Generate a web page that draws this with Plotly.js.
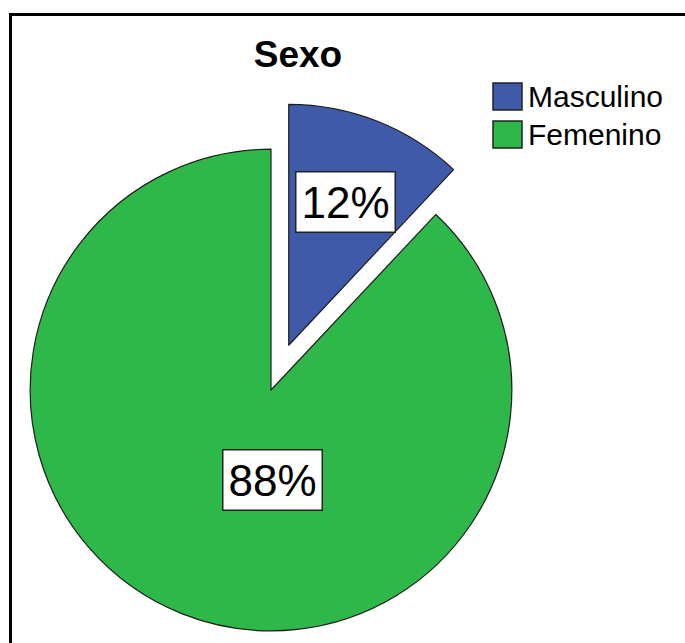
<!DOCTYPE html>
<html><head><meta charset="utf-8">
<script src="https://cdn.plot.ly/plotly-3.0.1.min.js"></script>
<style>
html,body{margin:0;padding:0;overflow:hidden;background:#fff;width:685px;height:643px}
#wrap{position:absolute;left:0;top:0;width:685px;height:643px;overflow:hidden;background:#fff}
#chart{position:absolute;left:-18px;top:0;width:703px;height:680px}
.bar{position:absolute;background:#000;pointer-events:none}
#topbar{left:9px;top:13px;width:676px;height:2.5px}
#leftbar{left:9px;top:13px;width:2.5px;height:630px}
</style>
</head><body><div id="wrap"><div id="chart"></div><div id="topbar" class="bar"></div><div id="leftbar" class="bar"></div></div>
<script>
// ---- data ----
const labels = ['Masculino', 'Femenino'];
const values = [12, 88];
const sliceColors = ['#3f5aa8', '#2eb84a'];
const chartTitle = 'Sexo';

// ---- geometry helpers (page px -> paper) ----
const OFF = 18, W = 703, H = 680;
const X = px => (px + OFF) / W;
const Y = py => 1 - py / H;
const cx = 271, cy = 390, HALF = 289, PULL = 0.2;
const R = HALF / (1 + PULL);
const pulls = labels.map((_, i) => (i === 0 ? PULL : 0));
const total = values.reduce((a, b) => a + b, 0);
const FONT = 'Liberation Sans, Arial, sans-serif';

// percent label boxes, computed from the data
const annotations = [];
let cum = 0;
values.forEach((v, i) => {
  const mid = (cum + v / 2) / total * 2 * Math.PI;
  cum += v;
  let px, py;
  if (i === 0) {
    const d = R * (pulls[i] + 0.64);
    px = cx + d * Math.sin(mid);
    py = cy - d * Math.cos(mid);
  } else {
    px = cx + 1.5;
    py = cy + 0.375 * R;
  }
  annotations.push({
    xref: 'paper', yref: 'paper', x: X(px), y: Y(py),
    xanchor: 'center', yanchor: 'middle', showarrow: false,
    text: Math.round(v / total * 100) + '%',
    font: {family: FONT, size: 44, color: '#000'},
    bgcolor: '#fff', bordercolor: '#222', borderwidth: 1.5, borderpad: 5
  });
});

// manual legend with large swatches
const shapes = [];
labels.forEach((lab, i) => {
  const top = 83 + i * 38;
  shapes.push({type: 'rect', xref: 'paper', yref: 'paper',
    x0: X(493), x1: X(522), y0: Y(top + 27), y1: Y(top),
    fillcolor: sliceColors[i], line: {color: '#222', width: 1.5}});
  annotations.push({xref: 'paper', yref: 'paper', x: X(526), y: Y(top + 13.5),
    xanchor: 'left', yanchor: 'middle', showarrow: false, text: lab,
    font: {family: FONT, size: 30, color: '#000'}});
});

const trace = {
  type: 'pie', labels: labels, values: values, sort: false,
  direction: 'clockwise', rotation: 0, pull: pulls,
  marker: {colors: sliceColors, line: {color: '#1e1e1e', width: 1.2}},
  textinfo: 'none', hoverinfo: 'none', showlegend: false,
  domain: {x: [X(cx - HALF), X(cx + HALF)], y: [Y(cy + HALF), Y(cy - HALF)]}
};

const layout = {
  width: W, height: H, margin: {l: 0, r: 0, t: 0, b: 0},
  paper_bgcolor: '#fff', showlegend: false,
  title: {text: chartTitle, font: {family: FONT, size: 37, weight: 'bold', color: '#000'},
          xref: 'container', yref: 'container', x: X(298), y: Y(54),
          xanchor: 'center', yanchor: 'middle'},
  shapes: shapes, annotations: annotations
};

Plotly.newPlot('chart', [trace], layout, {staticPlot: true});
</script>
</body></html>
